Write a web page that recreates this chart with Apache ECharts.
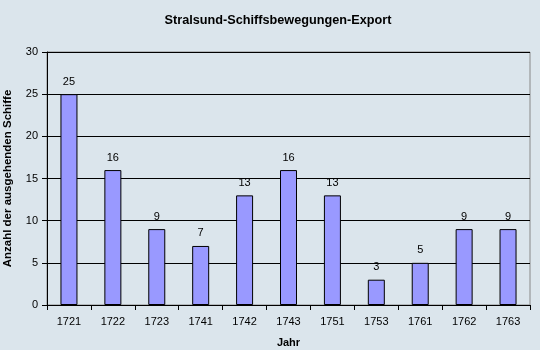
<!DOCTYPE html>
<html><head><meta charset="utf-8">
<script src="https://cdn.jsdelivr.net/npm/echarts@6/dist/echarts.min.js"></script>
<style>html,body{margin:0;padding:0;background:#dbe5ec}#c{width:540px;height:350px}</style>
</head><body><div id="c"></div>
<script>
const categories = ['1721','1722','1723','1741','1742','1743','1751','1753','1761','1762','1763'];
const values = [25,16,9,7,13,16,13,3,5,9,9];
const yTicks = [0,5,10,15,20,25,30];
const chart = echarts.init(document.getElementById('c'));
const font = 'Liberation Sans, Arial, sans-serif';
chart.setOption({
  backgroundColor: '#dbe5ec',
  animation: false,
  title: {text: 'Stralsund-Schiffsbewegungen-Export', left: 273, top: 9, textAlign: 'center',
    textStyle: {fontFamily: font, fontSize: 12.7, fontWeight: 'bold', color: '#000'}},
  grid: {left: 47, right: 10, top: 52, bottom: 45, containLabel: false, outerBoundsMode: 'none',
    show: true, borderColor: '#888', borderWidth: 1, backgroundColor: 'transparent'},
  xAxis: {type: 'category', data: categories, name: 'Jahr', nameLocation: 'middle', nameGap: 32,
    nameTextStyle: {fontFamily: font, fontSize: 11, fontWeight: 'bold', color: '#000'},
    axisLine: {lineStyle: {color: '#000'}}, axisTick: {show: true, length: 5, lineStyle: {color: '#000'}},
    axisLabel: {fontFamily: font, fontSize: 11, color: '#000', margin: 11}},
  yAxis: {type: 'value', min: yTicks[0], max: yTicks[yTicks.length-1], interval: 5,
    name: 'Anzahl der ausgehenden Schiffe', nameLocation: 'middle', nameGap: 33,
    nameTextStyle: {fontFamily: font, fontSize: 11.5, fontWeight: 'bold', color: '#000'},
    axisLine: {show: true, lineStyle: {color: '#000'}}, axisTick: {show: true, length: 5, lineStyle: {color: '#000'}},
    axisLabel: {fontFamily: font, fontSize: 11, color: '#000', margin: 9},
    splitLine: {lineStyle: {color: '#000', width: 1}}},
  series: [{type: 'bar', data: values, barWidth: 17,
    itemStyle: {color: '#9999ff', borderColor: '#000', borderWidth: 1},
    label: {show: true, position: 'top', distance: 7, fontFamily: font, fontSize: 11, color: '#000'}}]
});
</script></body></html>
